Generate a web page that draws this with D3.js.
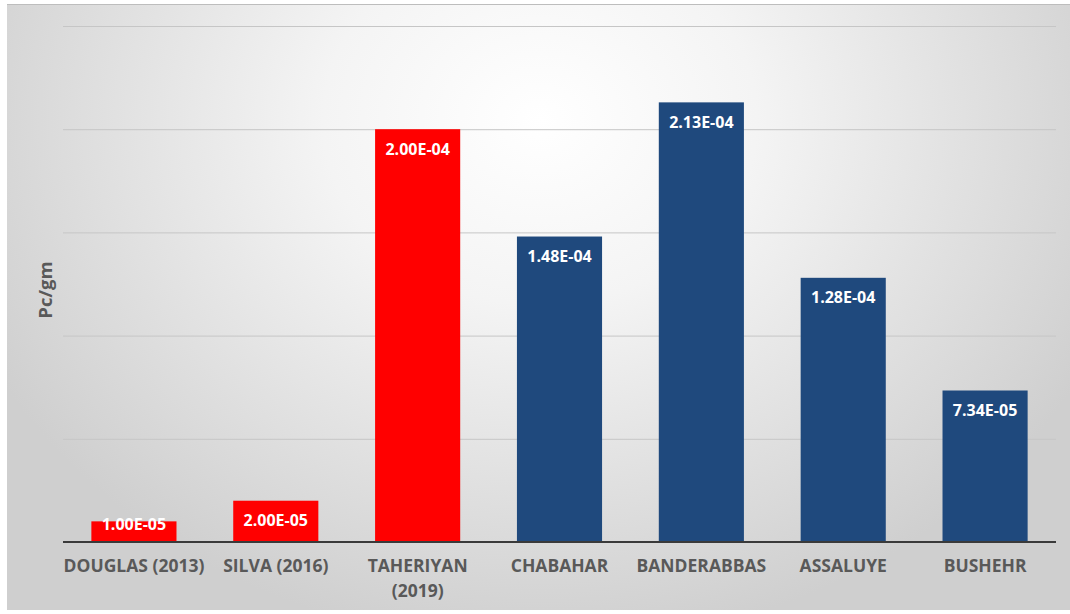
<!DOCTYPE html>
<html>
<head>
<meta charset="utf-8">
<script src="https://cdn.jsdelivr.net/npm/d3@7"></script>
<style>
  html, body { margin: 0; padding: 0; background: #ffffff; }
  svg { display: block; }
</style>
</head>
<body>
<svg id="chart" width="1070" height="614"></svg>
<script>
// Data
const categories = ["DOUGLAS (2013)", "SILVA (2016)", "TAHERIYAN (2019)", "CHABAHAR", "BANDERABBAS", "ASSALUYE", "BUSHEHR"];
const values = [1.00e-5, 2.00e-5, 2.00e-4, 1.48e-4, 2.13e-4, 1.28e-4, 7.34e-5];
const valueLabels = ["1.00E-05", "2.00E-05", "2.00E-04", "1.48E-04", "2.13E-04", "1.28E-04", "7.34E-05"];
const literatureFlags = [true, true, true, false, false, false, false];
const yTicks = [0, 5e-5, 1e-4, 1.5e-4, 2e-4, 2.5e-4];
const yTitle = "Pc/gm";

const svg = d3.select("#chart");
const W = 1070, H = 614;
const FONT = "'Open Sans', 'Noto Sans', sans-serif";

// Panel background: soft radial light from the upper middle
const defs = svg.append("defs");
const grad = defs.append("radialGradient")
  .attr("id", "bg").attr("gradientUnits", "userSpaceOnUse")
  .attr("cx", 540).attr("cy", 120).attr("r", 620)
  .attr("gradientTransform", "translate(540,120) scale(1,0.85) translate(-540,-120)");
grad.append("stop").attr("offset", "0%").attr("stop-color", "#ffffff");
grad.append("stop").attr("offset", "35%").attr("stop-color", "#f4f4f4");
grad.append("stop").attr("offset", "100%").attr("stop-color", "#cfcfcf");

svg.append("rect").attr("x", 7).attr("y", 4).attr("width", W - 7).attr("height", 606)
  .attr("fill", "url(#bg)");
svg.append("line").attr("x1", 7).attr("x2", W).attr("y1", 4.5).attr("y2", 4.5)
  .attr("stroke", "#bdbdbd").attr("stroke-width", 1);

const plot = { left: 63, right: 1056, top: 26, bottom: 542 };

const x = d3.scaleBand().domain(categories).range([plot.left, plot.right]).paddingInner(0.4).paddingOuter(0.2);
const y = d3.scaleLinear().domain([0, 2.5e-4]).range([plot.bottom, plot.top]);

// Gridlines
svg.append("g").attr("class", "grid")
  .attr("transform", `translate(${plot.left},0)`)
  .call(d3.axisLeft(y).tickValues(yTicks.slice(1)).tickSize(-(plot.right - plot.left)).tickFormat(""))
  .call(g => g.select(".domain").remove())
  .call(g => g.selectAll("line").attr("stroke", "#c6c6c6").attr("stroke-width", 1));

// Bars
svg.append("g").selectAll("rect").data(values).join("rect")
  .attr("x", (d, i) => x(categories[i]))
  .attr("width", x.bandwidth())
  .attr("y", d => y(d))
  .attr("height", d => y(0) - y(d))
  .attr("fill", (d, i) => literatureFlags[i] ? "#ff0000" : "#1f497d");

// Category axis
const xAxis = svg.append("g")
  .attr("transform", `translate(0,${plot.bottom})`)
  .call(d3.axisBottom(x).tickSize(0).tickPadding(18));
xAxis.select(".domain").attr("stroke", "#3a3a3a").attr("stroke-width", 2)
  .attr("d", `M${plot.left},0H${plot.right}`);
xAxis.selectAll("text")
  .attr("fill", "#595959")
  .style("font-family", FONT)
  .style("font-weight", "700")
  .style("font-size", "17.5px")
  .each(function (d) {
    const t = d3.select(this);
    if (d === "TAHERIYAN (2019)") {
      t.text(null);
      t.append("tspan").attr("x", 0).attr("dy", "0.71em").text("TAHERIYAN");
      t.append("tspan").attr("x", 0).attr("dy", "1.4em").text("(2019)");
      t.attr("dy", null);
    }
  });

// Value labels
svg.append("g").selectAll("text").data(values).join("text")
  .attr("x", (d, i) => x(categories[i]) + x.bandwidth() / 2)
  .attr("y", d => Math.min(y(d) + 20, plot.bottom - 18))
  .attr("dy", "0.35em")
  .attr("text-anchor", "middle")
  .attr("fill", "#ffffff")
  .style("font-family", FONT)
  .style("font-weight", "700")
  .style("font-size", "16px")
  .text((d, i) => valueLabels[i]);

// Y axis title
svg.append("text")
  .attr("transform", `translate(52,${(plot.top + plot.bottom) / 2 + 6}) rotate(-90)`)
  .attr("text-anchor", "middle")
  .attr("fill", "#595959")
  .style("font-family", FONT)
  .style("font-weight", "700")
  .style("font-size", "18.5px")
  .text(yTitle);
</script>
</body>
</html>
